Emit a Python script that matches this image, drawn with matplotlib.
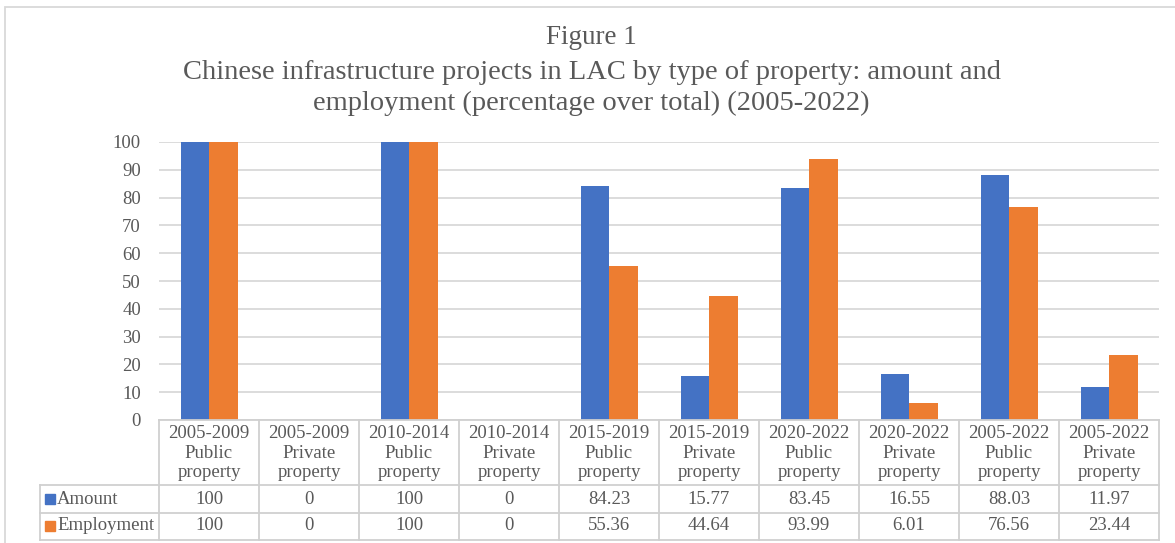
import numpy as np
import matplotlib.pyplot as plt
from matplotlib.patches import Rectangle
from matplotlib.transforms import blended_transform_factory

periods = ["2005-2009", "2005-2009", "2010-2014", "2010-2014", "2015-2019",
           "2015-2019", "2020-2022", "2020-2022", "2005-2022", "2005-2022"]
kinds = ["Public", "Private"] * 5
amount = [100, 0, 100, 0, 84.23, 15.77, 83.45, 16.55, 88.03, 11.97]
employment = [100, 0, 100, 0, 55.36, 44.64, 93.99, 6.01, 76.56, 23.44]
amount_lbl = ["100", "0", "100", "0", "84.23", "15.77", "83.45", "16.55", "88.03", "11.97"]
employment_lbl = ["100", "0", "100", "0", "55.36", "44.64", "93.99", "6.01", "76.56", "23.44"]

W, H = 1175, 543
blue, orange = "#4472C4", "#ED7D31"
txt = "#595959"
grid = "#D9D9D9"

plt.rcParams["font.family"] = ["Liberation Serif", "DejaVu Serif"]

fig = plt.figure(figsize=(W / 100, H / 100), dpi=100)
fx = lambda x: x / W
fy = lambda y: 1 - y / H

ax = fig.add_axes([fx(159), fy(420), fx(1159) - fx(159), fy(142) - fy(420)])
x = np.arange(len(amount))
bw = 0.285
ax.bar(x - bw / 2, amount, bw, color=blue)
ax.bar(x + bw / 2, employment, bw, color=orange)
ax.set_xlim(-0.5, len(amount) - 0.5)
ax.set_ylim(0, 100)
ax.set_yticks(range(0, 101, 10))
ax.yaxis.grid(True, color=grid, linewidth=1.3)
ax.set_axisbelow(True)
for s in ax.spines.values():
    s.set_visible(False)
ax.tick_params(axis="y", length=0, pad=13, labelsize=13.5, labelcolor=txt)
ax.tick_params(axis="x", length=0, labelbottom=False)

# border around chart area
fig.add_artist(Rectangle((fx(5), -0.2), 2, fy(7) + 0.2, transform=fig.transFigure,
                         fill=False, edgecolor=grid, linewidth=1.3))

# titles
fig.text(0.5035, fy(37), "Figure 1", ha="center", va="center", fontsize=19.5, color=txt)
fig.text(0.5035, fy(88), "Chinese infrastructure projects in LAC by type of property: amount and\n"
         "employment (percentage over total) (2005-2022)",
         ha="center", va="center", fontsize=20.5, color=txt, linespacing=1.28)

# data table
tr = blended_transform_factory(ax.transData, fig.transFigure)
lc = "#D0D0D0"
lw = 1.3
xl, xr = -0.5, len(amount) - 0.5
x_label = -0.5 - (159 - 40) / 100
ax.plot([xl, xr], [fy(420)] * 2, color=lc, lw=lw, transform=tr, clip_on=False)
for yy in [485, 513, 540]:
    ax.plot([x_label, xr], [fy(yy)] * 2, color=lc, lw=lw, transform=tr, clip_on=False)
for xb in np.arange(-0.5, len(amount), 1.0):
    ax.plot([xb, xb], [fy(420), fy(540)], color=lc, lw=lw, transform=tr, clip_on=False)
ax.plot([x_label, x_label], [fy(485), fy(540)], color=lc, lw=lw, transform=tr, clip_on=False)

fs = 13.5
for i in range(len(amount)):
    ax.text(i, fy(453), f"{periods[i]}\n{kinds[i]}\nproperty", transform=tr,
            ha="center", va="center", fontsize=fs, color=txt, linespacing=1.2)
    ax.text(i, fy(499), amount_lbl[i], transform=tr, ha="center", va="center",
            fontsize=fs, color=txt)
    ax.text(i, fy(526), employment_lbl[i], transform=tr, ha="center", va="center",
            fontsize=fs, color=txt)

for name, col, yy in [("Amount", blue, 499), ("Employment", orange, 526)]:
    fig.add_artist(Rectangle((fx(45), fy(yy + 5)), fx(10), fy(yy - 5) - fy(yy + 5),
                             transform=fig.transFigure, color=col))
    fig.text(fx(57), fy(yy), name, ha="left", va="center", fontsize=fs, color=txt)

fig.savefig("out.png", dpi=100)
